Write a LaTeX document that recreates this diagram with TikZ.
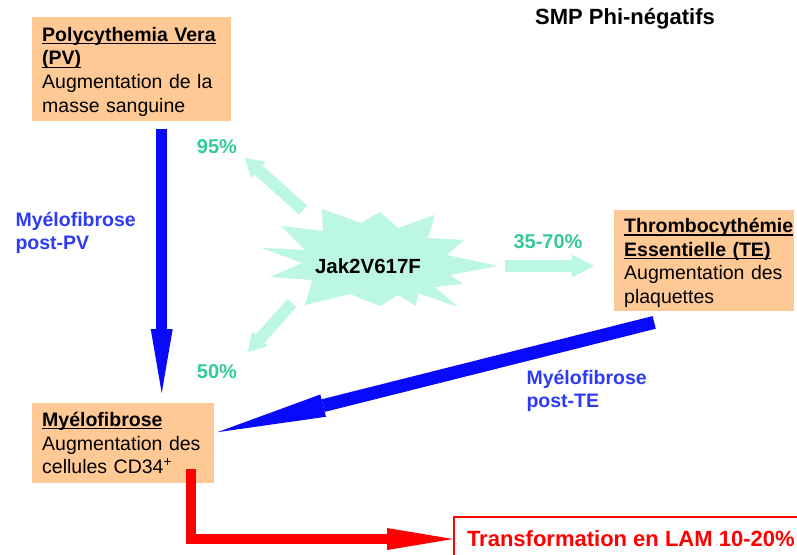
\documentclass[tikz,border=0pt]{standalone}
\usepackage{fontspec}
\setmainfont{Liberation Sans}
\usetikzlibrary{arrows.meta,calc}
\definecolor{peach}{HTML}{FFC995}
\definecolor{mint}{HTML}{BBF7E2}
\definecolor{pctgreen}{HTML}{33CC99}
\definecolor{arrowblue}{HTML}{0A0AFA}
\definecolor{textblue}{HTML}{2E3BF5}
\newcommand\myul[1]{\leavevmode\setbox0\hbox{#1}\rlap{\rule[-2.8pt]{\wd0}{1.1pt}}\box0}
\tikzset{
  box/.style={fill=peach, anchor=north west, inner xsep=10pt, inner ysep=0pt, align=left,
    font=\fontsize{19.5}{23.6}\selectfont},
  pct/.style={text=pctgreen, font=\bfseries\fontsize{20}{24}\selectfont},
  bluelbl/.style={text=textblue, align=left, anchor=west, font=\bfseries\fontsize{19.5}{23}\selectfont},
  bigblue/.style={draw=arrowblue, line width=11pt, -{Triangle[length=64pt,width=22pt,line width=0pt]}},
  diagblue/.style={draw=arrowblue, line width=13pt, -{Triangle[length=109pt,width=23pt,line width=0pt]}},
  redarrow/.style={draw=red, line width=10pt, -{Triangle[length=66pt,width=22pt,line width=0pt]}},
  mintarrow/.style={draw=mint, line width=12pt, -{Triangle[length=22pt,width=23pt,line width=0pt]}},
  mintdiag/.style={draw=mint, line width=12pt, -{Triangle[length=18pt,width=22pt,line width=0pt]}},
}
\begin{document}
\begin{tikzpicture}[x=1pt,y=-1pt]
\useasboundingbox[fill=white] (0,0) rectangle (797,554);

% title
\node[font=\bfseries\fontsize{22}{26}\selectfont] (title) at (625,19) {SMP Phi-négatifs};

% boxes
\node[box, text width=179pt, minimum height=104pt] (pv) at (32,17)
  {\rule{0pt}{19pt}\myul{\textbf{Polycythemia Vera}}\\\myul{\textbf{(PV)}}\\Augmentation de la\\masse sanguine};
\node[box, text width=160pt, minimum height=101pt] (te) at (614,210)
  {\rule{0pt}{19pt}\myul{\textbf{Thrombocythémie}}\\\myul{\textbf{Essentielle (TE)}}\\Augmentation des\\plaquettes};
\node[box, text width=162pt, minimum height=80pt] (myelo) at (32,403)
  {\myul{\textbf{Myélofibrose}}\\Augmentation des\\cellules CD34\textsuperscript{+}};
\node[draw=red, line width=2pt, fill=white, anchor=west, inner xsep=13pt,
  minimum height=44pt, text=red, font=\bfseries\fontsize{22}{26}\selectfont] (lam) at (453,539)
  {Transformation en LAM 10-20\%};

% star
\fill[mint] (262,248) -- (305,250) -- (281,226) -- (323,231) -- (322,209) -- (361,223)
  -- (380,212) -- (398,228) -- (435,215) -- (428,238) -- (464,240) -- (447,255)
  -- (498,266) -- (450,275) -- (463,284) -- (435,287) -- (458,307) -- (418,293)
  -- (416,306) -- (398,295) -- (380,306) -- (350,294) -- (305,305) -- (312,280)
  -- (270,277) -- (302,263) -- cycle;
\node[font=\bfseries\fontsize{20.5}{24}\selectfont] (jak) at (368,266) {Jak2V617F};

% green arrows
\coordinate (tipPV) at (245,158);
\coordinate (tipMF) at (248,352);
\coordinate (tipTE) at (594,266);
\draw[mintdiag] ([shift={(-65,-56)}]jak.center) -- (tipPV);
\draw[mintdiag] ([shift={(-76,37)}]jak.center) -- (tipMF);
\draw[mintarrow] ([shift={(137,0)}]jak.center) -- (tipTE);

% percent labels
\node[pct] (p95) at (217,147) {95\%};
\node[pct] (p50) at (217,372) {50\%};
\node[pct] (p3570) at (548,242) {35-70\%};

% blue arrows
\draw[bigblue] ([xshift=30pt,yshift=-8pt]pv.south) -- ([xshift=38.5pt,yshift=10pt]myelo.north);
\draw[diagblue] ([xshift=-50pt,yshift=-11pt]te.south) -- ([xshift=3pt,yshift=11pt]myelo.east);

% blue labels
\node[bluelbl] (lblpv) at (12,233) {Myélofibrose\\post-PV};
\node[bluelbl] (lblte) at (523,391) {Myélofibrose\\post-TE};

% red arrow
\draw[redarrow] ([xshift=68pt,yshift=14pt]myelo.south) |- (lam.west);
\end{tikzpicture}
\end{document}
